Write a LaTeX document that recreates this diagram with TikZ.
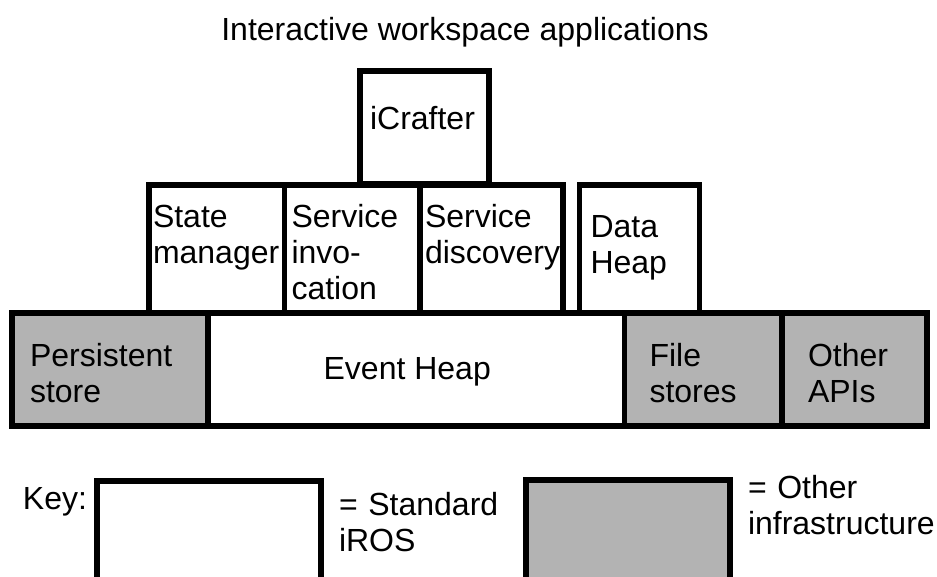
\documentclass[tikz,border=0pt]{standalone}
\usepackage{fontspec}
\setmainfont{Liberation Sans}
\usetikzlibrary{calc}
\definecolor{infra}{HTML}{B3B3B3}
\begin{document}
\begin{tikzpicture}[x=1pt,y=-1pt,
  every node/.style={font=\fontsize{32}{36}\selectfont, inner sep=0pt, outer sep=0pt},
  box/.style={draw=black, line width=5.5pt, fill=white, anchor=north west},
  graybox/.style={box, fill=infra},
  lbl/.style={anchor=base west, text width=250pt, align=left},
  clbl/.style={anchor=base}]
\useasboundingbox (0,0) rectangle (937,576);
\clip (0,0) rectangle (937,576);

% title
\node[clbl] (title) at (465,40) {Interactive workspace applications};

% top component
\node[box, minimum width=129pt, minimum height=113pt] (icrafter) at (360,71) {};

% middle row
\node[box, minimum width=135.5pt, minimum height=128pt] (state) at (149,185) {};
\node[box, minimum width=135.5pt, minimum height=128pt] (invoc) at (284.5,185) {};
\node[box, minimum width=143pt, minimum height=128pt] (discov) at (420,185) {};
\node[box, minimum width=120pt, minimum height=128pt] (dataheap) at (579.5,185) {};

% bottom row
\node[graybox, minimum width=196pt, minimum height=113pt] (persist) at (12,313) {};
\node[box, minimum width=416.5pt, minimum height=113pt] (eventheap) at (208,313) {};
\node[graybox, minimum width=157.5pt, minimum height=113pt] (files) at (624.5,313) {};
\node[graybox, minimum width=145pt, minimum height=113pt] (otherapi) at (782,313) {};

% labels
\node[clbl] at ($(icrafter.north)+(-2,58)$) {iCrafter};
\node[lbl] at ($(state.north west)+(4,42)$) {State\\manager};
\node[lbl] at ($(invoc.north west)+(7,42)$) {Service\\invo-\\cation};
\node[lbl] at ($(discov.north west)+(5,42)$) {Service\\discovery};
\node[lbl] at ($(dataheap.north west)+(11,52)$) {Data\\Heap};
\node[lbl] at ($(persist.north west)+(18,53)$) {Persistent\\store};
\node[clbl] at ($(eventheap.north)+(-9,66)$) {Event Heap};
\node[lbl] at ($(files.north west)+(25,53)$) {File\\stores};
\node[lbl] at ($(otherapi.north west)+(26,53)$) {Other\\APIs};

% key
\node[anchor=base west] (keylbl) at (23,509) {Key:};
\node[box, minimum width=224pt, minimum height=130pt] (keystd) at (97,481) {};
\node[lbl] at (339,515) {= Standard\\iROS};
\node[graybox, minimum width=204pt, minimum height=130pt] (keyinfra) at (526,480) {};
\node[lbl] at (748,498) {= Other\\infrastructure};
\end{tikzpicture}
\end{document}
